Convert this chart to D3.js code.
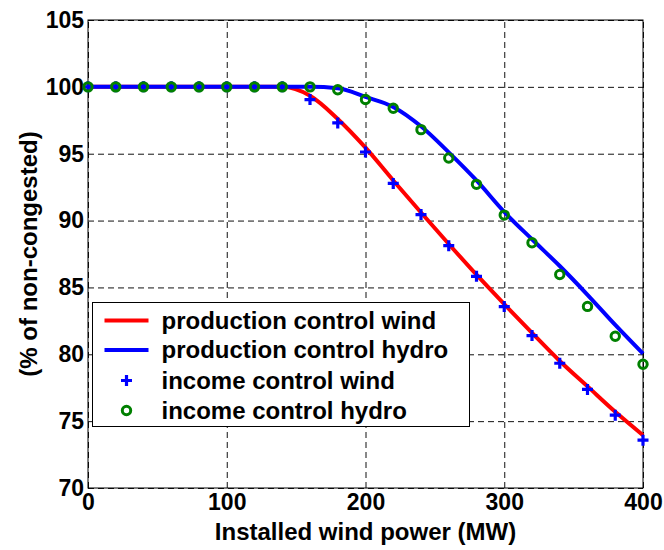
<!DOCTYPE html>
<html>
<head>
<meta charset="utf-8">
<script src="https://cdn.jsdelivr.net/npm/d3@7"></script>
<style>
  body { margin: 0; background: #fff; overflow: hidden; }
  svg { display: block; }
  text { font-family: "Liberation Sans", Arial, sans-serif; font-weight: bold; }
</style>
</head>
<body>
<div id="chart-area"></div>
<script>
// installed wind power (MW)
const windPower = [0, 20, 40, 60, 80, 100, 120, 140, 160, 180, 200, 220, 240, 260, 280, 300, 320, 340, 360, 380, 400];

// % of non-congested
const prodWind  = [100, 100, 100, 100, 100, 100, 100, 100, 99.33, 97.6, 95.45, 93.0, 90.6, 88.25, 85.95, 83.75, 81.6, 79.5, 77.6, 75.7, 73.95];
const prodHydro = [100, 100, 100, 100, 100, 100, 100, 100, 100, 99.9, 99.25, 98.5, 97.05, 95.1, 93.0, 90.65, 88.6, 86.6, 84.45, 82.2, 80.05];
const incWind   = [100, 100, 100, 100, 100, 100, 100, 100, 99.05, 97.3, 95.13, 92.78, 90.45, 88.12, 85.83, 83.57, 81.4, 79.33, 77.37, 75.45, 73.58];
const incHydro  = [100, 100, 100, 100, 100, 100, 100, 100, 100, 99.78, 99.05, 98.4, 96.8, 94.68, 92.71, 90.41, 88.34, 85.97, 83.58, 81.35, 79.25];

const xTicks = [0, 100, 200, 300, 400];
const yTicks = [70, 75, 80, 85, 90, 95, 100, 105];

const legendLabels = ["production control wind", "production control hydro", "income control wind", "income control hydro"];

const width = 664;
const height = 550;
const margin = {top: 20, right: 21, bottom: 62, left: 88};
const innerWidth = width - margin.left - margin.right;
const innerHeight = height - margin.top - margin.bottom;

const svg = d3.select('#chart-area')
  .append('svg')
  .attr('width', width)
  .attr('height', height);

const g = svg.append('g')
  .attr('transform', `translate(${margin.left},${margin.top})`);

const x = d3.scaleLinear()
  .domain([0, 400])
  .range([0, innerWidth]);

const y = d3.scaleLinear()
  .domain([70, 105])
  .range([innerHeight, 0]);

// grid
const xGrid = g.append('g')
  .attr('transform', `translate(0,${innerHeight})`)
  .call(d3.axisBottom(x).tickValues(xTicks).tickSize(-innerHeight).tickFormat(''));
const yGrid = g.append('g')
  .call(d3.axisLeft(y).tickValues(yTicks).tickSize(-innerWidth).tickFormat(''));
[xGrid, yGrid].forEach(a => {
  a.select('.domain').remove();
  a.selectAll('line')
    .attr('stroke', '#111')
    .attr('stroke-dasharray', '6,4');
});

// axes
const xAxis = g.append('g')
  .attr('transform', `translate(0,${innerHeight})`)
  .call(d3.axisBottom(x).tickValues(xTicks).tickSize(0).tickPadding(6));
const yAxis = g.append('g')
  .call(d3.axisLeft(y).tickValues(yTicks).tickSize(0).tickPadding(4));
[xAxis, yAxis].forEach(a => {
  a.selectAll('text')
    .attr('font-size', '23px')
    .attr('font-family', '"Liberation Sans", Arial, sans-serif')
    .attr('font-weight', 'bold')
    .attr('fill', '#000');
  a.select('.domain').remove();
});

g.append('rect')
  .attr('width', innerWidth)
  .attr('height', innerHeight)
  .attr('fill', 'none')
  .attr('stroke', '#000')
  .attr('stroke-width', 1);

// lines
const line = d3.line()
  .x((d, i) => x(windPower[i]))
  .y(d => y(d))
  .curve(d3.curveMonotoneX);

g.append('path')
  .attr('d', line(prodWind))
  .attr('fill', 'none')
  .attr('stroke', '#ff0000')
  .attr('stroke-width', 4);

g.append('path')
  .attr('d', line(prodHydro))
  .attr('fill', 'none')
  .attr('stroke', '#0000ff')
  .attr('stroke-width', 4);

// markers
function plus(sel) {
  sel.append('path')
    .attr('d', 'M-5.5,0H5.5M0,-5.5V5.5')
    .attr('stroke', '#0000ff')
    .attr('stroke-width', 3.2)
    .attr('fill', 'none');
}

g.selectAll('.wind-mark')
  .data(incWind)
  .enter()
  .append('g')
  .attr('class', 'wind-mark')
  .attr('transform', (d, i) => `translate(${x(windPower[i])},${y(d)})`)
  .call(plus);

g.selectAll('.hydro-mark')
  .data(incHydro)
  .enter()
  .append('circle')
  .attr('class', 'hydro-mark')
  .attr('cx', (d, i) => x(windPower[i]))
  .attr('cy', d => y(d))
  .attr('r', 4.2)
  .attr('fill', 'none')
  .attr('stroke', '#008000')
  .attr('stroke-width', 3);

// axis titles
svg.append('text')
  .text('Installed wind power (MW)')
  .attr('font-size', '24px')
  .attr('text-anchor', 'middle')
  .attr('x', margin.left + innerWidth / 2)
  .attr('y', 540);

svg.append('text')
  .text('(% of non-congested)')
  .attr('font-size', '24px')
  .attr('text-anchor', 'middle')
  .attr('transform', 'rotate(-90)')
  .attr('x', -(margin.top + innerHeight / 2))
  .attr('y', 37);

// legend
const legend = svg.append('g')
  .attr('transform', 'translate(92.5,302.5)');

legend.append('rect')
  .attr('width', 377)
  .attr('height', 124)
  .attr('fill', '#fff')
  .attr('stroke', '#000');

const rowY = [18, 47.5, 78, 108];

legend.append('line')
  .attr('x1', 12).attr('x2', 56)
  .attr('y1', rowY[0]).attr('y2', rowY[0])
  .attr('stroke', '#ff0000').attr('stroke-width', 4);
legend.append('line')
  .attr('x1', 12).attr('x2', 56)
  .attr('y1', rowY[1]).attr('y2', rowY[1])
  .attr('stroke', '#0000ff').attr('stroke-width', 4);
legend.append('g')
  .attr('transform', `translate(34,${rowY[2]})`)
  .call(plus);
legend.append('circle')
  .attr('cx', 34).attr('cy', rowY[3])
  .attr('r', 4.2)
  .attr('fill', 'none')
  .attr('stroke', '#008000')
  .attr('stroke-width', 3);

legend.selectAll('.legend-label')
  .data(legendLabels)
  .enter()
  .append('text')
  .attr('class', 'legend-label')
  .text(d => d)
  .attr('font-size', '24px')
  .attr('x', 69)
  .attr('y', (d, i) => rowY[i])
  .attr('dy', '0.35em');
</script>
</body>
</html>
